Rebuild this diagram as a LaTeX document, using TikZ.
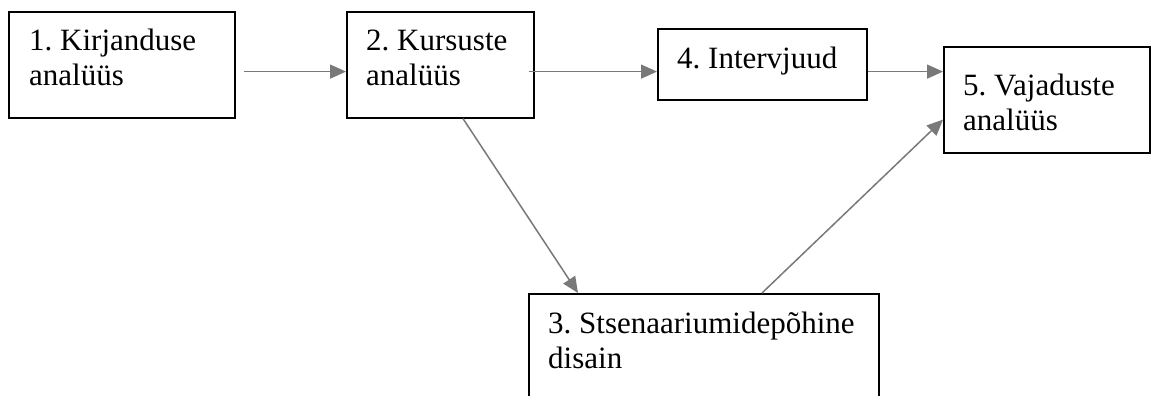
\documentclass[tikz,border=0pt]{standalone}
\usepackage{fontspec}
\setmainfont{Liberation Serif}
\usetikzlibrary{arrows.meta,calc}
\tikzset{
  box/.style={draw=black, line width=1.6pt, fill=white, inner sep=0pt, anchor=north west},
  lbl/.style={anchor=north west, inner sep=0pt, align=left, font=\fontsize{31}{35}\selectfont\frenchspacing},
  conn/.style={draw=gray!95!black, line width=1.5pt, -{Triangle[length=16pt,width=14pt]}}
}
\begin{document}
\begin{tikzpicture}[x=1pt,y=1pt]
\clip (0,0) rectangle (1151,-396);
\fill[white] (0,0) rectangle (1151,-396);
% boxes
\node[box, minimum width=226pt, minimum height=106pt] (b1) at (8,-11) {};
\node[box, minimum width=187pt, minimum height=106pt] (b2) at (346,-11) {};
\node[box, minimum width=209pt, minimum height=71pt] (b4) at (657,-28) {};
\node[box, minimum width=206pt, minimum height=106pt] (b5) at (943,-46) {};
\node[box, minimum width=350pt, minimum height=140pt] (b3) at (528,-293) {};
% labels
\node[lbl] (t1) at (29,-25.5) {\strut 1. Kirjanduse\\analüüs};
\node[lbl] (t2) at (366,-25.5) {\strut 2. Kursuste\\analüüs};
\node[lbl] (t4) at (677,-43.5) {\strut 4. Intervjuud};
\node[lbl] (t5) at (963,-70.5) {\strut 5. Vajaduste\\analüüs};
\node[lbl] (t3) at (548,-308.5) {\strut 3. Stsenaariumidepõhine\\disain};
% connectors
\draw[conn] ([xshift=8pt,yshift=47pt]b1.south east) -- ([yshift=47pt]b2.south west);
\draw[conn] ([xshift=-6pt,yshift=47pt]b2.south east) -- ([yshift=29pt]b4.south west);
\draw[conn] ([yshift=29pt]b4.south east) -- ([yshift=82pt]b5.south west);
\draw[conn] ([xshift=117pt]b2.south west) -- ([xshift=50pt]b3.north west);
\draw[conn] ([xshift=234pt]b3.north west) -- ([yshift=34pt]b5.south west);
\end{tikzpicture}
\end{document}
